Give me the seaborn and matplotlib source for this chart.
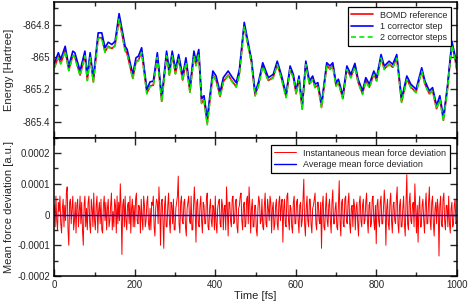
import numpy as np
import matplotlib
matplotlib.use("Agg")
import matplotlib.pyplot as plt
import seaborn as sns
from matplotlib.ticker import MultipleLocator, FixedLocator, FuncFormatter

# energy trace sample times [fs]
t_energy = [0, 10, 16, 27, 36, 46, 51, 64, 76, 82, 89, 97, 109, 118, 126, 134, 143, 151, 161, 176,
            181, 195, 203, 209, 217, 230, 238, 246, 256, 267, 279, 286, 293, 301, 309, 319, 327, 337, 347, 352,
            359, 366, 372, 380, 394, 402, 412, 420, 432, 441, 452, 460, 472, 485, 490, 499, 507, 518, 532, 544,
            554, 565, 576, 586, 594, 601, 608, 616, 625, 634, 642, 648, 655, 664, 677, 685, 692, 700, 706, 717,
            727, 737, 747, 755, 766, 774, 783, 794, 801, 812, 820, 832, 841, 851, 863, 876, 886, 899, 913, 921,
            932, 940, 950, 958, 967, 977, 988, 996, 1000]

# 1 corrector step (blue)
e_corr1 = [-865.040, -864.974, -865.015, -864.934, -865.057, -864.964, -864.974, -865.087, -864.964, -865.118,
           -864.974, -865.128, -864.851, -864.851, -864.943, -864.909, -864.923, -864.903, -864.732, -864.934,
           -864.954, -865.108, -865.005, -864.995, -864.943, -865.200, -865.154, -865.150, -864.974, -865.250,
           -864.964, -865.087, -864.964, -865.077, -864.985, -865.118, -865.005, -865.190, -864.964, -865.026,
           -864.954, -865.260, -865.240, -865.380, -865.087, -865.118, -865.220, -865.128, -865.087, -865.122,
           -865.159, -865.077, -864.786, -864.954, -865.015, -865.220, -865.159, -865.036, -865.128, -865.108,
           -865.026, -865.118, -865.230, -865.056, -865.108, -865.210, -865.118, -865.302, -865.026, -865.149,
           -865.118, -865.169, -865.159, -865.292, -865.036, -865.056, -865.036, -865.159, -865.138, -865.240,
           -865.056, -865.108, -865.040, -865.138, -865.210, -865.128, -865.169, -865.087, -865.128, -864.985,
           -865.057, -865.026, -865.046, -864.985, -865.260, -865.118, -865.169, -865.200, -865.067, -865.149,
           -865.210, -865.190, -865.302, -865.240, -865.374, -865.180, -864.903, -864.995, -865.060]

# BOMD reference (red)
e_bomd = [-865.065, -864.999, -865.040, -864.959, -865.082, -864.989, -864.999, -865.112, -864.989, -865.143,
          -864.999, -865.153, -864.881, -864.881, -864.968, -864.934, -864.948, -864.928, -864.762, -864.959,
          -864.979, -865.133, -865.030, -865.020, -864.968, -865.225, -865.179, -865.175, -864.999, -865.275,
          -864.989, -865.112, -864.989, -865.102, -865.010, -865.143, -865.030, -865.215, -864.989, -865.051,
          -864.979, -865.285, -865.265, -865.410, -865.112, -865.143, -865.245, -865.153, -865.112, -865.147,
          -865.184, -865.102, -864.806, -864.972, -865.033, -865.238, -865.177, -865.054, -865.146, -865.126,
          -865.044, -865.136, -865.248, -865.074, -865.126, -865.228, -865.136, -865.320, -865.044, -865.167,
          -865.136, -865.187, -865.177, -865.310, -865.054, -865.074, -865.054, -865.177, -865.156, -865.258,
          -865.074, -865.126, -865.058, -865.156, -865.228, -865.146, -865.187, -865.105, -865.146, -865.003,
          -865.075, -865.044, -865.064, -865.003, -865.278, -865.136, -865.187, -865.218, -865.085, -865.167,
          -865.228, -865.208, -865.320, -865.258, -865.392, -865.198, -864.921, -865.013, -865.078]

# 2 corrector steps (green)
e_corr2 = [-865.069, -865.003, -865.044, -864.963, -865.086, -864.993, -865.003, -865.116, -864.993, -865.147,
           -865.003, -865.157, -864.885, -864.885, -864.972, -864.938, -864.952, -864.932, -864.766, -864.963,
           -864.983, -865.137, -865.034, -865.024, -864.972, -865.229, -865.183, -865.179, -865.003, -865.279,
           -864.993, -865.116, -864.993, -865.106, -865.014, -865.147, -865.034, -865.219, -864.993, -865.055,
           -864.983, -865.289, -865.269, -865.420, -865.116, -865.147, -865.249, -865.157, -865.116, -865.151,
           -865.188, -865.106, -864.810, -864.976, -865.037, -865.242, -865.181, -865.058, -865.150, -865.130,
           -865.048, -865.140, -865.252, -865.078, -865.130, -865.232, -865.140, -865.324, -865.048, -865.171,
           -865.140, -865.191, -865.181, -865.314, -865.058, -865.078, -865.058, -865.181, -865.160, -865.262,
           -865.078, -865.130, -865.062, -865.160, -865.232, -865.150, -865.191, -865.109, -865.150, -865.007,
           -865.079, -865.048, -865.068, -865.007, -865.282, -865.140, -865.191, -865.222, -865.089, -865.171,
           -865.232, -865.212, -865.324, -865.262, -865.396, -865.202, -864.925, -865.017, -865.082]

# instantaneous mean force deviation, every 2 fs, in units of 1e-5 a.u.
t_force = list(range(0, 1001, 2))
force_dev_e5 = [
    3, -4, 6, -2, -5, 4, 1, 6, -3, -6, 2, 5, -4, 3, -2, 7, 9, -5, -10, 4,
    5, -3, 2, 6, -5, -2, 4, -6, 3, 5, -4, 1, 6, -3, 4, -5, -10, 3, 6, -4,
    2, -5, 4, 6, -3, -6, 5, 2, -4, 7, -2, -5, 3, 6, -6, 1, 4, -3, 5, -5,
    -6, 3, 6, -2, 4, -5, 2, 5, -4, -2, 3, 7, -5, 1, -4, 5, 3, -6, 6, -3,
    4, -2, 10, 2, -13, 3, 5, -4, 6, -2, -5, 3, 4, -3, 6, -6, 2, 5, -4, 3,
    -4, 5, 7, -2, -3, 3, 2, -6, 5, -1, -5, 6, 3, -4, -2, 4, 6, -3, -5, 2,
    -5, 4, 3, 6, -4, -7, 2, 5, 4, -3, 9, 2, -10, 4, 5, -2, -11, 3, 6, -4,
    -4, 3, 7, -2, -6, 4, 3, -3, 5, -5, -5, 2, 4, 6, 12.5, -3, -6, 4, 6, -2,
    -3, 4, 5, -4, -7, 2, 4, 6, -2, -3, 6, -5, -5, 3, 9, 2, -9, 4, 5, -3,
    -4, 3, 6, -2, -6, 4, 3, -3, -3, 5, 7, -4, -5, 2, 5, -2, -4, 3, 2, -5,
    6, -3, -6, 2, 4, 5, -3, -4, 5, 3, -5, 2, 3, -5, 9, 2, -7, 4, 4, -2,
    -4, 5, 6, -3, -2, 4, 5, -4, -6, 2, 3, 6, 7, -2, -5, 3, 4, -4, -3, 5,
    6, -3, 9, 3, -6, 2, 5, -4, -4, 3, 3, -5, -7, 2, 6, 4, -3, -2, 5, -4,
    -5, 3, 7, -3, -4, 5, 2, -2, 6, 4, -6, 2, 4, -5, -3, 3, 5, -3, -5, 4,
    6, -2, 3, 5, -9, 2, 5, -3, -4, 6, 7, -2, -5, 3, 2, -4, -6, 4, 6, -3,
    -3, 4, 5, -2, -6, 3, 4, -4, -2, 5, 11.5, -3, -7, 2, 6, -2, -4, 5, 5, -3,
    -6, 2, 3, 5, 7, -3, -5, 4, 4, -2, -3, 4, -11, 3, 6, -4, -5, 2, 7, -2,
    -4, 3, 5, -2, -6, 4, 8, -3, -3, 2, 4, -4, -5, 3, 11, -2, -7, 4, 5, -3,
    -4, 5, 6, -2, -3, 4, 7, -3, -6, 2, 3, -4, 5, 3, -5, 2, 4, -3, -7, 4,
    6, -2, -4, 3, 5, -3, -2, 4, 7, -2, -6, 3, 4, -4, -3, 5, 6, -2, -5, 3,
    -9.5, 3, 5, -2, -4, 4, 6, -3, -3, 2, 8, 3, -10, 2, 5, -3, -5, 4, 7, -2,
    -6, 3, 4, -2, -3, 5, 9, -3, -6, 3, 5, -4, -4, 2, 6, -3, -7, 4, 13, -3,
    -5, 4, 7, -2, -3, 3, 4, -4, 10, 2, -6, 3, -9, 2, 6, -4, -4, 3, 5, -2,
    -6, 3, 7, -3, -3, 4, 9, -2, -5, 4, 6, -3, -7, 2, 4, -3, 5, 2, -13.5, 3,
    6, -3, -4, 5, 7, -2, -5, 3, 3, -4, 6, -3, -6, 2, 4, -4, -3, 3, 5, -3,
    -2]
force_avg = [0.0, 0.0]
t_avg = [0, 1000]

force_dev = np.array(force_dev_e5) * 1e-5

sns.set_style("ticks")
plt.rcParams['font.family'] = ['Liberation Sans', 'DejaVu Sans']

fig = plt.figure(figsize=(4.69, 3.03), dpi=100)
ax1 = fig.add_axes([0.1158, 0.5455, 0.858, 0.4479])
ax2 = fig.add_axes([0.1158, 0.0891, 0.858, 0.4564])

# top panel: energies
sns.lineplot(x=t_energy, y=e_bomd, ax=ax1, color="#ff0000", linewidth=1.2, label="BOMD reference")
sns.lineplot(x=t_energy, y=e_corr1, ax=ax1, color="#0000ff", linewidth=1.2, label="1 corrector step")
sns.lineplot(x=t_energy, y=e_corr2, ax=ax1, color="#00ee00", linewidth=1.2, linestyle="--",
             label="2 corrector steps")
ax1.lines[2].set_dashes((3, 2))

# bottom panel: force deviation
sns.lineplot(x=t_force, y=force_dev, ax=ax2, color="#ff0000", linewidth=0.7,
             label="Instantaneous mean force deviation")
sns.lineplot(x=t_avg, y=force_avg, ax=ax2, color="#0000ff", linewidth=1.0,
             label="Average mean force deviation")


def gfmt(v, pos):
    return "%g" % round(v, 8)


for ax in (ax1, ax2):
    ax.set_xlim(0, 1000)
    ax.xaxis.set_major_locator(MultipleLocator(200))
    ax.xaxis.set_minor_locator(MultipleLocator(100))
    ax.tick_params(which="both", direction="in", top=True, right=True, labelsize=7, pad=3, width=1)
    ax.tick_params(which="major", length=5)
    ax.tick_params(which="minor", length=3)
    for s in ax.spines.values():
        s.set_linewidth(1.1)
        s.set_color("black")

ax1.set_ylim(-865.5, -864.66)
ax1.yaxis.set_major_locator(FixedLocator([-865.4, -865.2, -865.0, -864.8]))
ax1.yaxis.set_minor_locator(FixedLocator([-865.5, -865.3, -865.1, -864.9, -864.7]))
ax1.yaxis.set_major_formatter(FuncFormatter(gfmt))
ax1.tick_params(axis="x", labelbottom=False)
ax1.set_xlabel("")
ax1.set_ylabel("Energy [Hartree]", fontsize=8)
ax1.yaxis.set_label_coords(-0.101, 0.5)

ax2.set_ylim(-0.0002, 0.00025)
ax2.yaxis.set_major_locator(FixedLocator([-0.0002, -0.0001, 0.0, 0.0001, 0.0002]))
ax2.yaxis.set_minor_locator(FixedLocator([-0.00015, -0.00005, 0.00005, 0.00015, 0.00025]))
ax2.yaxis.set_major_formatter(FuncFormatter(gfmt))
ax2.xaxis.set_major_formatter(FuncFormatter(gfmt))
ax2.set_xlabel("Time [fs]", fontsize=8, labelpad=0.5)
ax2.set_ylabel("Mean force deviation [a.u.]", fontsize=8)
ax2.yaxis.set_label_coords(-0.101, 0.5)

leg_kw = dict(fontsize=6.5, fancybox=False, framealpha=1, edgecolor="black",
              handlelength=2.4, labelspacing=0.25, borderpad=0.4, borderaxespad=0, handletextpad=0.8)
l1 = ax1.legend(loc="upper right", bbox_to_anchor=(0.986, 0.963), **leg_kw)
l2 = ax2.legend(loc="upper right", bbox_to_anchor=(0.983, 0.947), **leg_kw)
for lg in (l1, l2):
    lg.get_frame().set_linewidth(0.9)

fig.savefig("out.png", dpi=100)
